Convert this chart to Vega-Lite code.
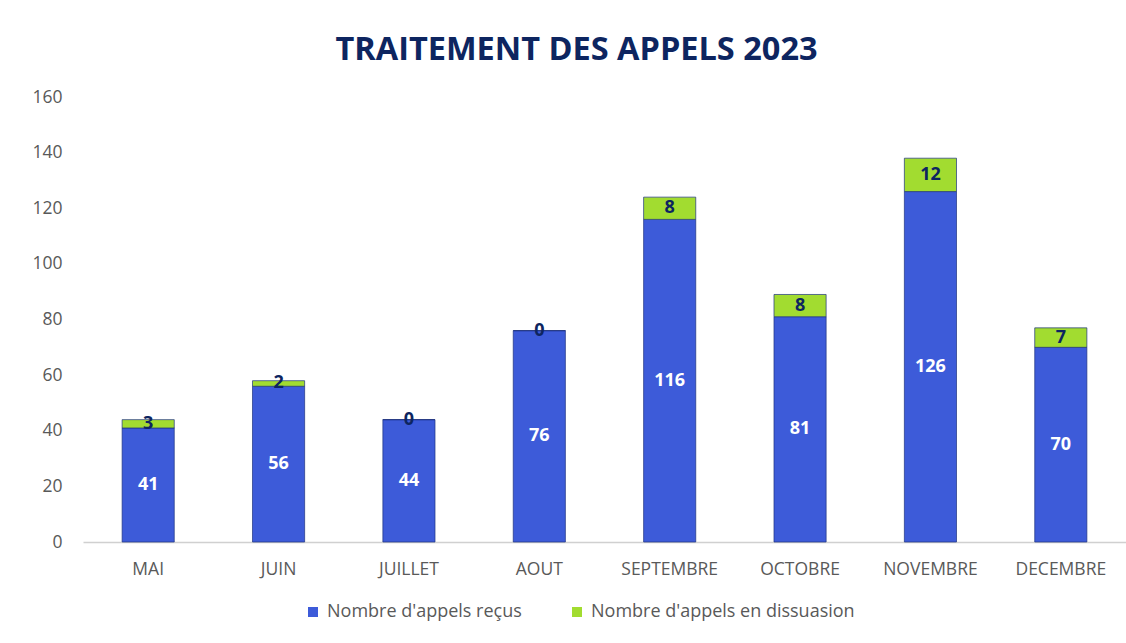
{
  "$schema": "https://vega.github.io/schema/vega-lite/v6.json",
  "autosize": {"type": "none"},
  "width": 1043,
  "height": 445,
  "padding": {"left": 83, "top": 97, "right": 0, "bottom": 101},
  "background": "white",
  "title": {
    "text": "TRAITEMENT DES APPELS 2023",
    "font": "Open Sans",
    "fontSize": 32.5,
    "fontWeight": "bold",
    "color": "#0d2560",
    "anchor": "middle",
    "dx": -28,
    "offset": 22
  },
  "data": {
    "values": [
      {"mois": "MAI", "serie": "Nombre d'appels reçus", "o": 1, "valeur": 41},
      {"mois": "MAI", "serie": "Nombre d'appels en dissuasion", "o": 2, "valeur": 3},
      {"mois": "JUIN", "serie": "Nombre d'appels reçus", "o": 1, "valeur": 56},
      {"mois": "JUIN", "serie": "Nombre d'appels en dissuasion", "o": 2, "valeur": 2},
      {"mois": "JUILLET", "serie": "Nombre d'appels reçus", "o": 1, "valeur": 44},
      {"mois": "JUILLET", "serie": "Nombre d'appels en dissuasion", "o": 2, "valeur": 0},
      {"mois": "AOUT", "serie": "Nombre d'appels reçus", "o": 1, "valeur": 76},
      {"mois": "AOUT", "serie": "Nombre d'appels en dissuasion", "o": 2, "valeur": 0},
      {"mois": "SEPTEMBRE", "serie": "Nombre d'appels reçus", "o": 1, "valeur": 116},
      {"mois": "SEPTEMBRE", "serie": "Nombre d'appels en dissuasion", "o": 2, "valeur": 8},
      {"mois": "OCTOBRE", "serie": "Nombre d'appels reçus", "o": 1, "valeur": 81},
      {"mois": "OCTOBRE", "serie": "Nombre d'appels en dissuasion", "o": 2, "valeur": 8},
      {"mois": "NOVEMBRE", "serie": "Nombre d'appels reçus", "o": 1, "valeur": 126},
      {"mois": "NOVEMBRE", "serie": "Nombre d'appels en dissuasion", "o": 2, "valeur": 12},
      {"mois": "DECEMBRE", "serie": "Nombre d'appels reçus", "o": 1, "valeur": 70},
      {"mois": "DECEMBRE", "serie": "Nombre d'appels en dissuasion", "o": 2, "valeur": 7}
    ]
  },
  "transform": [
    {"stack": "valeur", "groupby": ["mois"], "sort": [{"field": "o", "order": "ascending"}], "as": ["v0", "v1"]},
    {"calculate": "(datum.v0 + datum.v1) / 2", "as": "milieu"}
  ],
  "encoding": {
    "x": {
      "field": "mois",
      "type": "nominal",
      "sort": null,
      "title": null,
      "scale": {"paddingInner": 0.6, "paddingOuter": 0.3},
      "axis": {
        "labelAngle": 0,
        "labelFont": "Open Sans",
        "labelFontSize": 17.5,
        "labelColor": "#595959",
        "labelPadding": 18,
        "ticks": false,
        "domainColor": "#d0d0d0",
        "domainWidth": 1.5
      }
    }
  },
  "layer": [
    {
      "mark": {"type": "bar", "stroke": "#1f3380", "strokeWidth": 1, "strokeOpacity": 0.7},
      "encoding": {
        "y": {
          "field": "v0",
          "type": "quantitative",
          "scale": {"domain": [0, 160]},
          "title": null,
          "axis": {
            "values": [0, 20, 40, 60, 80, 100, 120, 140, 160],
            "labelFont": "Open Sans",
            "labelFontSize": 17.5,
            "labelColor": "#595959",
            "labelPadding": 21,
            "ticks": false,
            "domain": false,
            "grid": false
          }
        },
        "y2": {"field": "v1"},
        "color": {
          "field": "serie",
          "type": "nominal",
          "sort": ["Nombre d'appels reçus", "Nombre d'appels en dissuasion"],
          "scale": {"domain": ["Nombre d'appels reçus", "Nombre d'appels en dissuasion"], "range": ["#3d5bd9", "#a2dc30"]},
          "legend": {
            "title": null,
            "orient": "none",
            "direction": "horizontal",
            "legendX": 221,
            "legendY": 506,
            "symbolType": "square",
            "symbolSize": 100,
            "symbolStrokeWidth": 0,
            "labelFont": "Open Sans",
            "labelFontSize": 18,
            "labelColor": "#595959",
            "labelLimit": 0,
            "columnPadding": 46,
            "labelOffset": 5
          }
        }
      }
    },
    {
      "mark": {"type": "text", "font": "Open Sans", "fontSize": 18, "fontWeight": "bold", "baseline": "middle"},
      "encoding": {
        "y": {"field": "milieu", "type": "quantitative"},
        "text": {"field": "valeur", "type": "quantitative"},
        "color": {"condition": {"test": "datum.o == 1", "value": "white"}, "value": "#0d2560"}
      }
    }
  ],
  "config": {"view": {"stroke": null}}
}
